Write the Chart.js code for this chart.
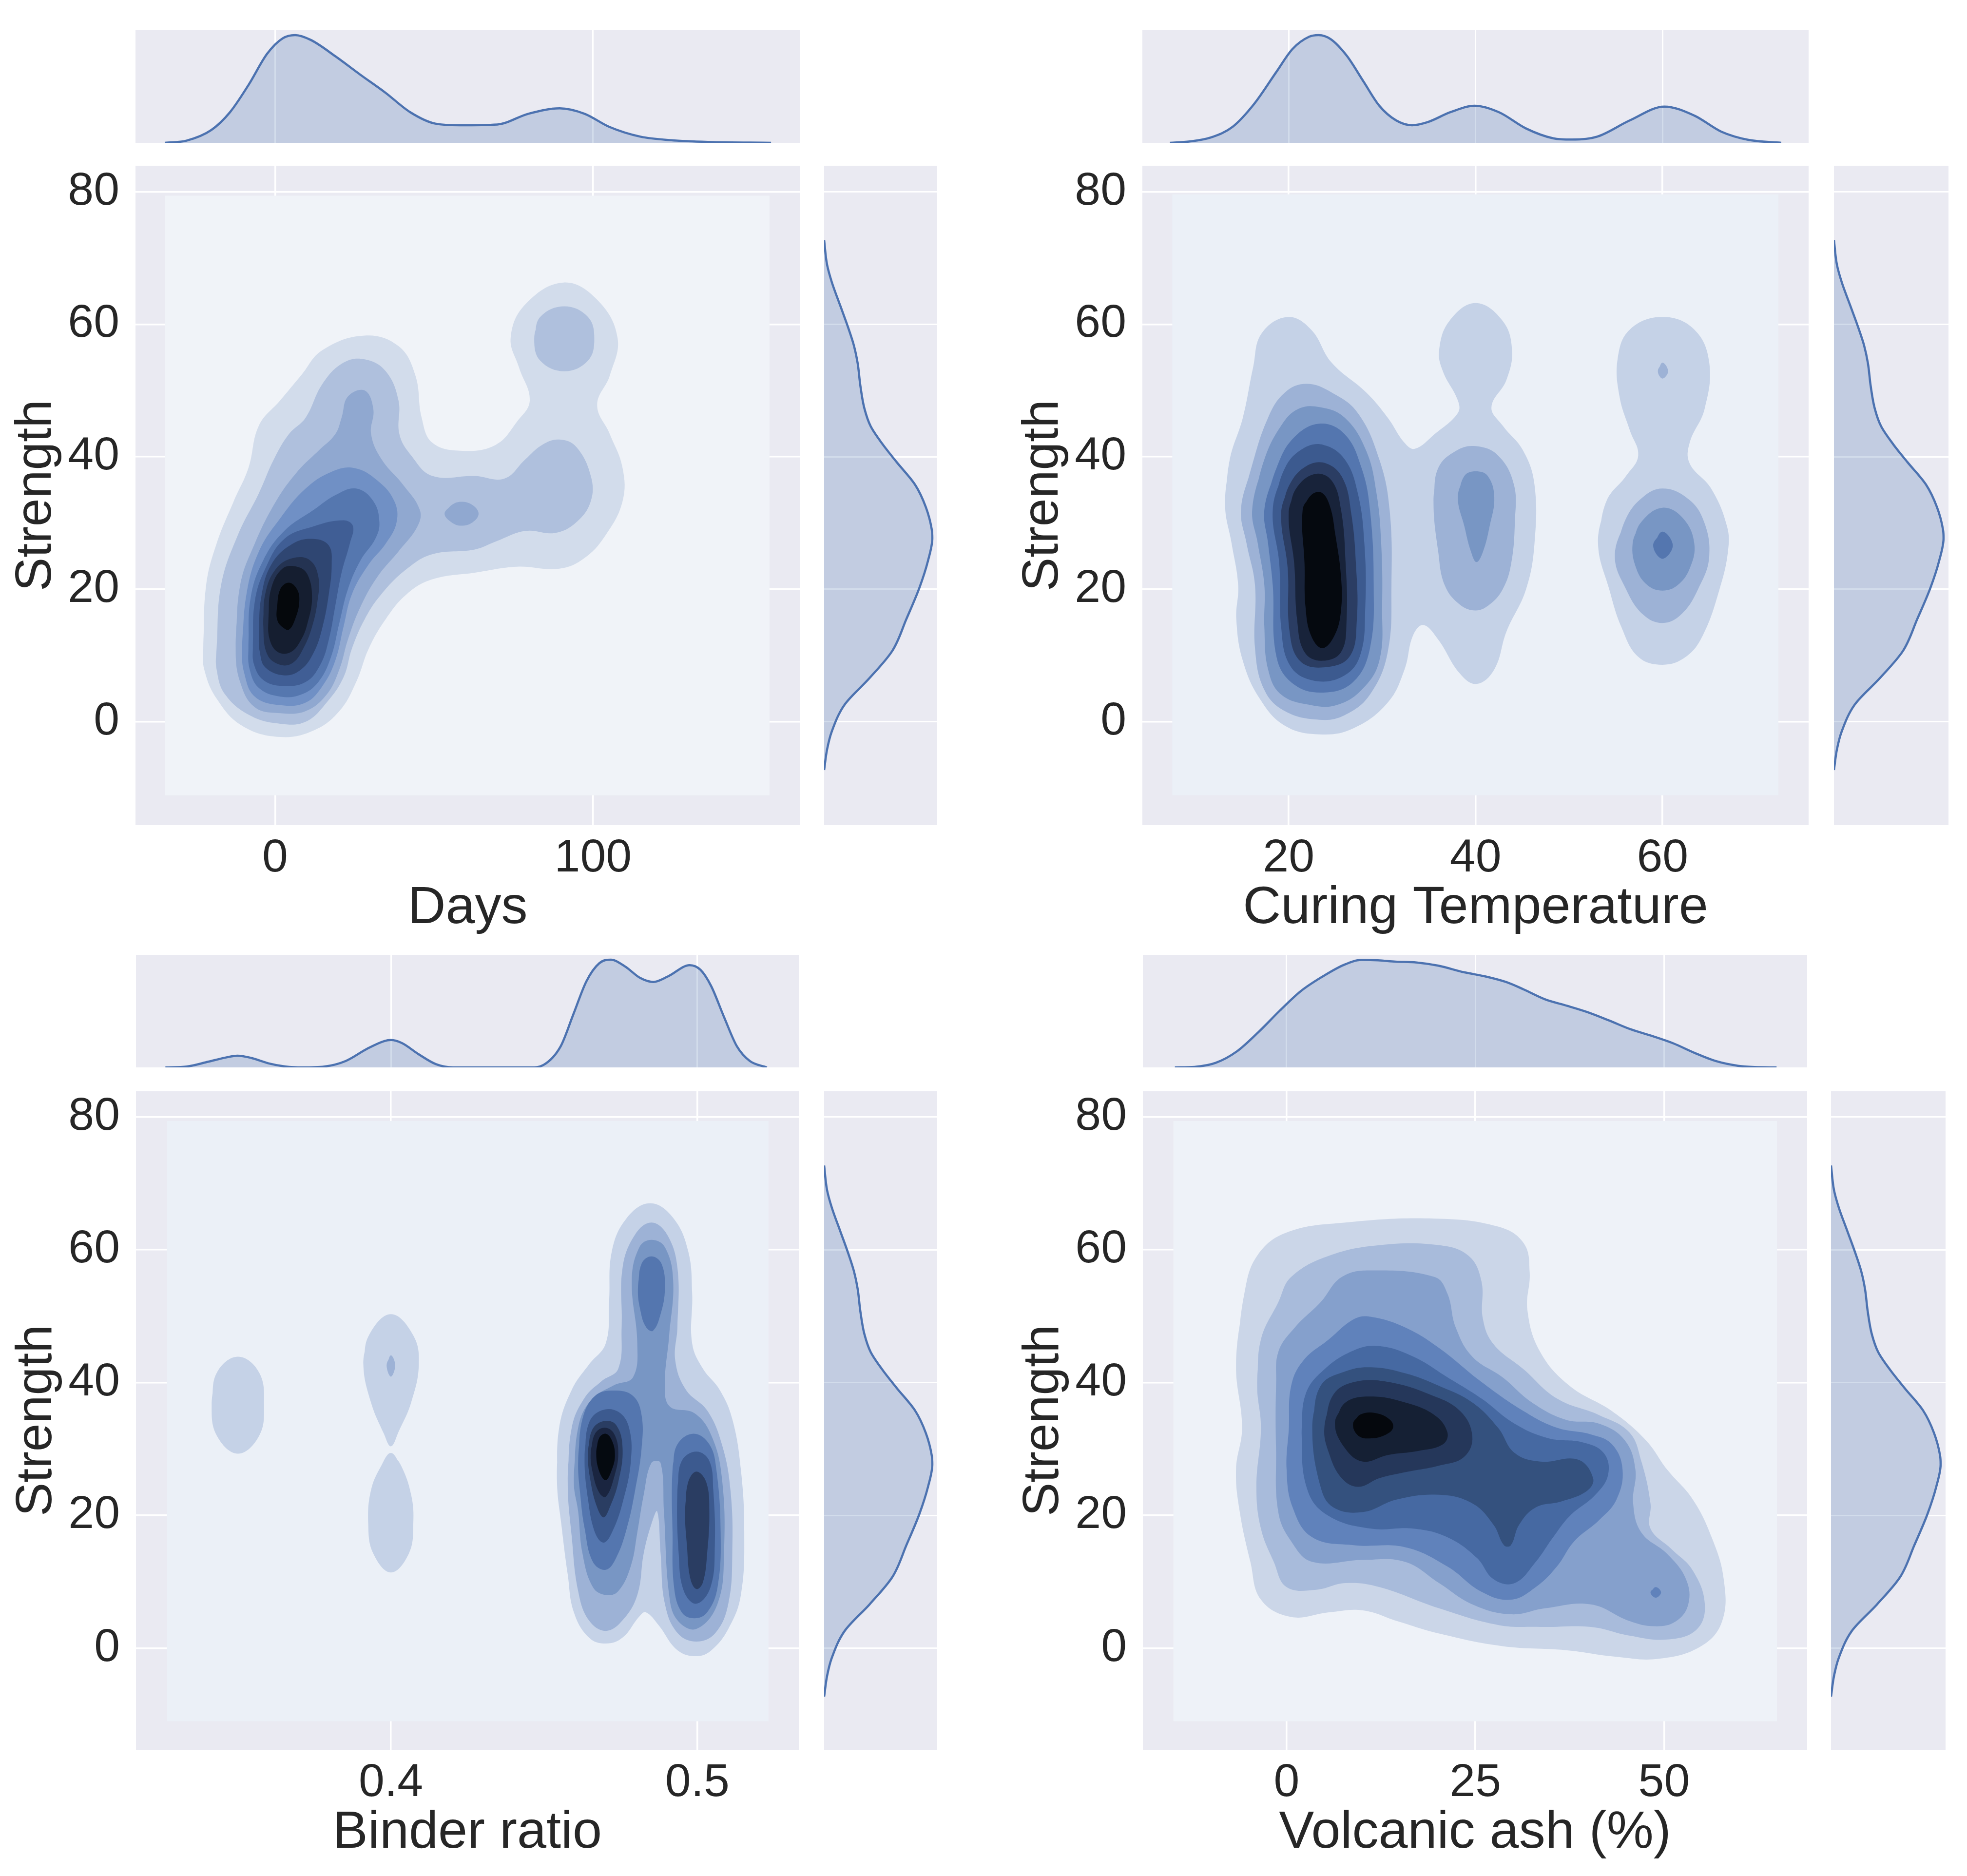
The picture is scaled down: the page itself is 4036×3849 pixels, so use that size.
<!DOCTYPE html>
<html>
<head>
<meta charset="utf-8">
<title>Strength joint KDE plots</title>
<script src="https://cdn.jsdelivr.net/npm/chart.js@4.4.1/dist/chart.umd.min.js"></script>
<style>
  html, body { margin: 0; padding: 0; background: #ffffff; }
  body { width: 4036px; height: 3849px; position: relative; overflow: hidden; }
  canvas { position: absolute; }
</style>
</head>
<body>
<script>
// ---- shared axis values ----
const strengthTicks = [0, 20, 40, 60, 80];
const strengthLabels = ['0', '20', '40', '60', '80'];

// strength marginal density (same on all four plots)
const strengthGrid = [-7.3, -4.2, -1.5, 2.6, 6.6, 10.7, 15.5, 20.2, 24.3, 27.7, 29.0, 32.4, 35.8, 39.2, 41.9, 44.6, 47.3, 50.7, 54.1, 56.8, 59.5, 62.9, 66.3, 69.0, 72.7];
const strengthDensity = [0, 0.027, 0.07, 0.19, 0.42, 0.63, 0.76, 0.88, 0.96, 1.0, 0.995, 0.94, 0.84, 0.67, 0.54, 0.43, 0.372, 0.335, 0.31, 0.275, 0.222, 0.147, 0.072, 0.027, 0];

// ---- Days ----
const daysTicks = [0, 100];
const daysLabels = ['0', '100'];
const daysGrid = [-34.7, -27.9, -20.1, -14.2, -8.3, -2.5, 2.4, 6.3, 11.2, 19.1, 26.9, 34.7, 42.5, 50.4, 58.2, 69.9, 79.7, 89.5, 97.3, 105.1, 114.9, 124.7, 136.4, 156];
const daysDensity = [0, 0.02, 0.118, 0.284, 0.54, 0.827, 0.97, 1.0, 0.955, 0.80, 0.63, 0.465, 0.284, 0.178, 0.163, 0.17, 0.27, 0.32, 0.27, 0.148, 0.057, 0.024, 0.008, 0];
const daysColors = ['#F0F3F8', '#D2DCEB', '#AFC0DD', '#90A8D0', '#7090C5', '#5577AF', '#405E95', '#2F4672', '#243352', '#151E30', '#05080C'];
const daysBase = [[-34.6, -11.1], [-34.6, 79.4], [155.5, 79.4], [155.5, -11.1]];
const days1 = [[-22.6,11.1],[-21.7,20.6],[-18.4,26.9],[-13.0,33.3],[-8.4,38.3],[-5.1,44.7],[1.6,48.5],[8.2,52.3],[14.9,56.1],[28.2,58.3],[38.8,56.7],[44.1,52.3],[46.1,45.9],[49.5,42.1],[58.8,40.9],[69.4,41.8],[76.1,45.3],[80.1,48.5],[76.7,53.5],[74.1,58.0],[78.7,63.0],[90.7,66.3],[101.3,63.7],[107.7,58.0],[105.3,52.3],[101.3,47.8],[105.3,43.4],[109.3,38.3],[109.3,33.3],[104.0,28.2],[97.3,24.7],[89.4,23.1],[76.1,23.4],[62.8,22.5],[49.5,21.5],[41.5,19.3],[34.8,15.5],[29.5,11.1],[25.5,6.0],[20.2,1.6],[12.2,-1.3],[1.6,-2.3],[-10.4,-0.6],[-18.4,3.5],[-22.3,7.9]];
const days2 = [[-18.4,11.1],[-17.0,20.6],[-11.7,28.2],[-5.1,34.5],[-0.4,39.6],[4.3,43.4],[9.6,45.9],[14.9,51.0],[21.5,54.2],[28.2,54.7],[34.8,52.9],[38.8,48.5],[39.1,43.4],[42.8,40.2],[49.5,37.1],[62.8,37.1],[72.1,36.7],[78.7,39.6],[84.0,41.8],[89.4,42.6],[94.7,41.5],[99.3,37.1],[99.3,33.3],[94.7,30.1],[88.0,28.5],[78.7,28.8],[69.4,27.2],[62.8,26.0],[49.5,25.3],[41.5,23.1],[33.5,19.3],[28.2,15.5],[24.2,11.1],[21.5,6.7],[16.2,2.9],[9.6,0.0],[1.6,-0.3],[-7.7,0.9],[-15.7,4.1],[-18.4,7.9]];
const days2b = [[81.5,57.8],[83.4,61.1],[91.0,62.7],[98.4,61.1],[100.4,57.8],[98.4,54.5],[91.0,52.9],[83.4,54.5]];
const days3 = [[-12.4,11.1],[-11.0,20.6],[-6.4,26.9],[0.3,33.3],[6.9,37.7],[13.6,40.9],[18.9,43.4],[20.9,45.9],[22.9,49.1],[28.2,50.0],[30.9,47.2],[30.2,43.4],[33.5,39.6],[40.2,35.8],[45.5,32.0],[44.8,29.5],[38.8,25.7],[32.2,21.9],[26.9,17.4],[22.9,12.4],[20.2,7.9],[16.2,4.1],[9.6,1.6],[1.6,1.3],[-6.4,2.2],[-11.0,6.0]];
const days3b = [[53.3,31.4],[55.5,32.7],[58.6,33.2],[62.1,32.7],[64.0,31.4],[62.1,30.1],[58.6,29.6],[55.5,30.1]];
const days4 = [[-10.4,11.1],[-9.0,19.3],[-5.1,25.7],[1.6,30.7],[9.6,35.2],[17.6,37.7],[24.9,38.3],[32.2,36.4],[37.5,33.3],[38.2,30.1],[34.8,26.9],[29.5,23.8],[24.2,19.3],[21.5,14.3],[18.9,9.2],[14.9,5.4],[9.6,2.9],[1.6,2.5],[-6.4,3.8],[-9.7,7.3]];
const days5 = [[-8.4,11.1],[-7.7,18.7],[-3.7,24.4],[2.9,28.8],[12.2,32.0],[18.9,34.2],[25.5,35.2],[30.9,33.3],[32.8,30.1],[31.5,27.6],[26.9,24.4],[22.9,20.0],[20.2,14.9],[17.6,9.8],[13.6,6.0],[8.2,4.1],[1.6,3.8],[-5.1,5.1],[-8.0,7.9]];
const days6 = [[-7.0,11.1],[-6.4,18.1],[-3.1,23.1],[2.9,27.6],[12.2,29.5],[21.5,30.4],[24.5,29.5],[23.5,26.9],[20.9,22.5],[18.9,17.4],[16.9,12.4],[14.2,8.6],[9.6,6.0],[2.3,5.4],[-3.7,6.3],[-6.6,8.6]];
const days7 = [[-5.1,13.0],[-4.4,18.7],[-1.1,23.8],[5.6,26.9],[12.2,27.6],[16.9,26.6],[17.8,23.8],[16.9,19.3],[14.9,14.3],[12.2,10.5],[8.2,7.9],[2.9,7.0],[-3.1,8.2],[-4.8,10.5]];
const days8 = [[-3.7,14.3],[-3.1,19.3],[0.3,23.1],[5.6,24.7],[10.9,24.4],[13.6,21.9],[13.3,18.1],[11.6,14.3],[8.9,11.1],[5.6,8.9],[1.6,8.6],[-2.4,10.1]];
const days9 = [[-2.1,15.5],[-1.3,20.0],[2.3,23.1],[6.9,23.4],[10.2,22.2],[11.6,18.7],[10.2,14.9],[8.2,12.4],[4.9,10.5],[0.9,10.5],[-1.7,12.4]];
const days10 = [[0.5,16.8],[1.6,20.0],[4.3,21.0],[6.9,20.0],[7.6,18.1],[6.3,15.5],[4.3,13.9],[2.3,14.3],[0.8,15.2]];

// ---- Curing Temperature ----
const tempTicks = [20, 40, 60];
const tempLabels = ['20', '40', '60'];
const tempGrid = [7.3, 9.4, 11.7, 14.0, 16.3, 18.7, 20.4, 22.2, 23.2, 24.5, 26.2, 28.0, 29.7, 31.5, 33.2, 34.9, 37.3, 39.9, 42.5, 45.4, 48.3, 50.3, 53.0, 56.5, 60.2, 63.4, 66.3, 69.2, 72.7];
const tempDensity = [0, 0.012, 0.05, 0.148, 0.36, 0.66, 0.87, 0.985, 1.0, 0.962, 0.81, 0.57, 0.344, 0.208, 0.163, 0.193, 0.284, 0.344, 0.284, 0.133, 0.042, 0.03, 0.057, 0.208, 0.336, 0.253, 0.103, 0.027, 0];
const tempColors = ['#EBF0F7', '#C5D2E7', '#9DB2D6', '#7896C4', '#5476AF', '#3C5A8F', '#2B3D63', '#18233A', '#05090F'];
const tempBase = [[7.55, -11.1], [7.55, 79.6], [72.4, 79.6], [72.4, -11.1]];
const temp1a = [[13.2,32.6],[13.7,39.6],[15.1,45.9],[16.2,53.5],[17.1,58.6],[19.9,61.1],[22.4,59.2],[24.6,54.2],[28.3,49.7],[30.6,45.9],[32.4,42.1],[33.5,41.2],[35.6,43.4],[38.1,46.6],[38.1,48.5],[36.5,52.9],[36.1,56.1],[37.2,60.5],[40.0,63.2],[42.9,60.5],[43.9,56.1],[43.3,51.6],[41.7,47.5],[42.9,44.7],[45.1,40.9],[46.3,35.8],[46.3,26.9],[45.4,20.0],[43.3,13.6],[42.0,7.9],[40.1,5.7],[38.3,7.3],[36.0,12.4],[34.4,14.6],[33.3,13.0],[32.4,7.9],[30.6,2.9],[26.9,-1.0],[23.3,-1.9],[19.6,-0.6],[16.9,3.5],[15.1,9.2],[14.4,15.5],[14.6,20.6],[13.9,26.9]];
const temp1b = [[53.1,26.9],[54.0,33.3],[56.1,37.1],[57.4,40.2],[56.5,44.0],[55.4,49.1],[55.2,54.8],[56.5,59.2],[60.0,61.1],[63.4,59.2],[65.0,54.2],[64.5,47.2],[62.9,42.1],[62.9,39.0],[65.2,35.2],[66.9,29.5],[67.0,25.7],[66.1,20.0],[64.3,13.0],[62.5,9.8],[60.0,8.6],[57.4,9.8],[55.6,14.3],[54.3,20.0]];
const temp2a = [[14.9,32.0],[16.0,38.3],[17.8,45.9],[19.6,49.7],[21.9,51.0],[24.6,49.7],[27.4,46.6],[29.7,39.6],[30.8,32.0],[31.0,20.6],[30.6,10.5],[28.7,4.1],[26.0,1.0],[23.3,0.3],[19.6,1.6],[17.4,4.8],[16.4,11.1],[16.4,20.6],[15.5,26.9]];
const temp2b = [[35.5,33.3],[36.0,38.3],[37.9,40.9],[40.0,41.6],[42.4,40.2],[44.1,35.8],[44.2,30.1],[43.8,23.8],[42.9,20.0],[41.5,17.7],[40.0,16.8],[38.3,17.7],[36.7,20.6],[36.0,25.7]];
const temp2c = [[54.9,25.0],[56.1,30.7],[57.9,33.9],[60.0,35.2],[62.5,33.9],[64.3,30.7],[65.0,25.0],[63.8,20.0],[62.0,16.2],[60.0,14.9],[57.9,16.2],[56.1,20.0]];
const temp2d = [[59.5,52.9],[60.0,54.2],[60.6,52.9],[60.0,51.8]];
const temp3a = [[16.1,32.0],[17.4,39.6],[19.2,44.7],[21.0,47.2],[23.3,47.5],[26.0,45.9],[28.3,40.9],[29.4,34.5],[29.9,26.9],[30.0,17.4],[29.7,9.2],[27.8,4.8],[25.1,2.5],[22.4,2.5],[19.2,4.1],[17.8,7.9],[17.4,14.3],[17.4,20.6],[16.7,26.9]];
const temp3b = [[38.1,33.9],[38.8,37.1],[40.0,37.8],[41.3,37.1],[42.0,33.9],[41.5,29.5],[40.8,25.7],[40.1,24.1],[39.5,25.7],[38.8,29.5]];
const temp3c = [[56.8,26.9],[57.7,30.1],[60.0,32.3],[62.2,30.7],[63.4,26.9],[62.9,23.1],[61.6,20.6],[60.0,19.8],[58.4,20.6],[57.2,23.1]];
const temp4a = [[17.4,32.0],[18.7,38.3],[20.5,42.8],[23.3,45.0],[26.0,43.4],[27.8,38.3],[28.7,32.0],[29.1,20.6],[28.7,11.1],[26.9,6.0],[23.7,4.4],[20.5,5.7],[18.7,9.8],[18.3,20.6],[17.8,26.9]];
const temp4b = [[59.0,26.6],[60.0,28.7],[61.1,26.6],[60.0,24.6]];
const temp5 = [[18.3,32.0],[19.6,38.3],[21.5,41.2],[23.7,41.8],[26.0,39.6],[27.4,34.5],[28.1,26.9],[28.2,17.4],[27.6,9.8],[25.6,6.7],[22.4,6.3],[20.1,8.6],[19.2,14.3],[19.0,23.8]];
const temp6 = [[19.2,31.4],[20.1,35.8],[21.9,38.6],[24.0,39.0],[25.8,36.7],[26.7,31.4],[27.2,23.8],[27.3,15.5],[26.5,9.8],[23.7,8.2],[21.2,9.2],[20.1,13.6],[19.9,23.1]];
const temp7 = [[20.0,31.4],[20.8,35.2],[22.8,37.4],[24.6,36.4],[25.6,32.0],[26.1,23.8],[26.2,15.5],[25.6,10.5],[23.5,9.2],[21.7,10.5],[20.9,15.5],[20.6,23.8]];
const temp8 = [[21.5,32.0],[22.4,34.2],[23.5,34.6],[24.4,32.6],[25.0,28.2],[25.6,21.9],[25.6,16.8],[24.9,13.0],[23.6,11.1],[22.4,13.0],[21.8,17.4],[21.7,23.8]];

// ---- Binder ratio ----
const binderTicks = [0.4, 0.5];
const binderLabels = ['0.4', '0.5'];
const binderGrid = [0.3264, 0.3334, 0.3404, 0.3460, 0.3499, 0.3544, 0.3600, 0.3656, 0.3712, 0.3783, 0.3853, 0.3923, 0.3979, 0.4000, 0.4035, 0.4091, 0.4147, 0.4203, 0.4456, 0.4498, 0.4554, 0.4596, 0.4638, 0.4680, 0.4718, 0.4764, 0.4813, 0.4856, 0.4905, 0.4975, 0.5010, 0.5045, 0.5087, 0.5129, 0.5171, 0.5227];
const binderDensity = [0, 0.008, 0.053, 0.091, 0.109, 0.088, 0.038, 0.008, 0, 0.008, 0.06, 0.174, 0.245, 0.254, 0.227, 0.121, 0.03, 0, 0, 0.023, 0.196, 0.498, 0.80, 0.967, 1.0, 0.937, 0.831, 0.793, 0.846, 0.949, 0.906, 0.755, 0.468, 0.196, 0.06, 0];
const binderColors = ['#EBF0F7', '#C5D2E7', '#9DB2D6', '#7896C4', '#5476AF', '#3C5A8F', '#2A3D62', '#1A2540', '#050A10'];
const binderBase = [[0.3269, -11.0], [0.3269, 79.4], [0.5232, 79.4], [0.5232, -11.0]];
const binder1a = [[0.3415,36.6],[0.3432,41.5],[0.3501,43.9],[0.3570,41.5],[0.3586,36.6],[0.3570,32.0],[0.3501,29.3],[0.3432,32.0]];
const binder1b = [[0.3910,42.7],[0.3928,47.1],[0.4000,50.3],[0.4073,47.1],[0.4091,42.7],[0.4066,37.0],[0.4025,32.6],[0.4000,30.4],[0.3977,32.3],[0.3935,37.0]];
const binder1c = [[0.4000,29.4],[0.4032,27.6],[0.4066,23.1],[0.4073,18.7],[0.4059,14.3],[0.4000,11.4],[0.3942,14.3],[0.3926,18.7],[0.3935,23.8],[0.3970,27.6]];
const binder1d = [[0.4542,25.0],[0.4549,33.2],[0.4590,38.9],[0.4646,42.7],[0.4701,45.9],[0.4712,52.2],[0.4721,59.8],[0.4770,64.8],[0.4846,67.0],[0.4921,64.8],[0.4970,59.8],[0.4983,53.5],[0.4983,45.9],[0.5018,42.1],[0.5073,38.9],[0.5114,34.5],[0.5142,26.9],[0.5153,17.4],[0.5142,8.0],[0.5101,2.9],[0.5046,-0.3],[0.4997,-1.2],[0.4935,-0.3],[0.4873,3.5],[0.4832,5.4],[0.4811,4.8],[0.4756,1.6],[0.4701,0.7],[0.4646,1.6],[0.4597,5.4],[0.4577,11.1],[0.4556,18.7]];
const binder2a = [[0.4577,25.0],[0.4590,33.2],[0.4632,37.7],[0.4687,40.2],[0.4742,42.1],[0.4753,48.4],[0.4756,57.3],[0.4797,62.3],[0.4850,64.1],[0.4901,62.3],[0.4935,57.3],[0.4935,48.4],[0.4928,43.3],[0.4963,38.9],[0.5032,35.8],[0.5080,30.7],[0.5108,23.8],[0.5114,14.3],[0.5101,6.7],[0.5059,2.3],[0.4997,1.0],[0.4935,2.3],[0.4894,6.7],[0.4880,14.3],[0.4869,20.6],[0.4850,18.7],[0.4825,14.3],[0.4804,8.0],[0.4756,4.2],[0.4701,2.6],[0.4646,4.2],[0.4611,8.6],[0.4590,16.8]];
const binder2b = [[0.3986,42.6],[0.4000,44.1],[0.4014,42.6],[0.4000,40.9]];
const binder3 = [[0.4597,25.0],[0.4611,33.2],[0.4652,37.3],[0.4728,39.6],[0.4790,40.8],[0.4804,45.9],[0.4786,55.4],[0.4811,60.4],[0.4850,61.5],[0.4894,60.4],[0.4921,55.4],[0.4908,47.1],[0.4894,39.6],[0.4910,36.4],[0.4990,35.4],[0.5046,32.0],[0.5080,25.7],[0.5087,14.3],[0.5066,6.7],[0.4997,2.9],[0.4935,4.2],[0.4908,8.0],[0.4891,20.6],[0.4880,27.9],[0.4850,27.9],[0.4825,23.1],[0.4804,17.4],[0.4783,12.4],[0.4742,8.6],[0.4701,8.0],[0.4659,9.2],[0.4625,14.3],[0.4611,20.6]];
const binder4a = [[0.4806,54.1],[0.4818,57.9],[0.4850,59.0],[0.4883,57.9],[0.4894,54.1],[0.4880,50.3],[0.4855,47.8],[0.4832,48.4],[0.4814,50.9]];
const binder4b = [[0.4611,28.2],[0.4625,34.5],[0.4666,38.0],[0.4728,38.8],[0.4790,38.0],[0.4818,35.1],[0.4818,30.1],[0.4797,23.8],[0.4770,18.1],[0.4735,13.6],[0.4701,11.8],[0.4659,13.0],[0.4632,18.1],[0.4618,23.1]];
const binder4c = [[0.4919,26.9],[0.4935,30.7],[0.4988,32.3],[0.5039,30.7],[0.5062,26.9],[0.5076,17.4],[0.5066,9.2],[0.5032,5.4],[0.4990,4.5],[0.4949,5.4],[0.4924,9.2],[0.4919,17.4]];
const binder5a = [[0.4632,28.8],[0.4646,33.9],[0.4687,35.8],[0.4742,35.6],[0.4777,33.2],[0.4783,28.2],[0.4756,21.9],[0.4721,17.4],[0.4694,15.9],[0.4666,17.4],[0.4643,22.5]];
const binder5b = [[0.4935,23.8],[0.4949,28.2],[0.4997,29.6],[0.5039,28.2],[0.5052,23.8],[0.5057,15.5],[0.5043,9.2],[0.4997,6.7],[0.4956,8.6],[0.4939,14.3]];
const binder6a = [[0.4643,29.4],[0.4657,32.9],[0.4694,34.2],[0.4735,33.6],[0.4756,30.1],[0.4742,25.0],[0.4714,21.2],[0.4694,19.7],[0.4673,21.2],[0.4652,25.0]];
const binder6b = [[0.4960,20.6],[0.4970,25.0],[0.4997,26.6],[0.5029,25.0],[0.5039,20.6],[0.5032,14.3],[0.5018,9.9],[0.4997,8.9],[0.4977,10.5],[0.4966,15.5]];
const binder7 = [[0.4652,29.4],[0.4666,32.3],[0.4698,33.2],[0.4728,32.3],[0.4742,29.4],[0.4728,25.7],[0.4701,22.8],[0.4680,23.4],[0.4659,26.3]];
const binder8 = [[0.4670,29.4],[0.4680,31.7],[0.4701,32.3],[0.4721,31.3],[0.4731,29.1],[0.4721,26.9],[0.4701,25.3],[0.4680,26.6]];

// ---- Volcanic ash ----
const ashTicks = [0, 25, 50];
const ashLabels = ['0', '25', '50'];
const ashGrid = [-14.8, -12.2, -9.4, -6.6, -3.7, -0.9, 1.9, 4.8, 7.6, 9.9, 12.1, 14.4, 17.2, 20.1, 23.5, 26.3, 29.1, 31.4, 34.2, 37.1, 39.9, 42.7, 45.6, 48.4, 51.2, 54.1, 56.9, 59.8, 62.0, 64.9];
const ashDensity = [0, 0.005, 0.042, 0.148, 0.33, 0.527, 0.709, 0.845, 0.952, 0.997, 0.994, 0.982, 0.974, 0.944, 0.883, 0.845, 0.792, 0.724, 0.633, 0.573, 0.512, 0.436, 0.353, 0.292, 0.224, 0.133, 0.058, 0.015, 0.003, 0];
const ashColors = ['#EEF2F8', '#CBD6E8', '#A8BBDB', '#85A0CC', '#6082BB', '#4669A2', '#34517E', '#25375A', '#152034', '#05080D'];
const ashBase = [[-15.0, -11.0], [-15.0, 79.4], [64.95, 79.4], [64.95, -11.0]];
const ash1 = [[-6.7,42.7],[-5.6,53.4],[-3.9,59.1],[0,62.6],[7.8,64.1],[19.6,64.7],[28.0,63.5],[31.4,61.0],[32.2,56.6],[31.9,50.9],[33.6,44.6],[37.5,39.5],[43.1,35.7],[47.6,31.3],[50.4,26.9],[53.8,22.4],[56.3,16.7],[57.9,10.4],[57.7,4.1],[54.9,0.3],[49.3,-1.6],[43.7,-1.3],[37.0,-0.3],[28.6,0.3],[20.2,2.2],[14.6,4.1],[10.1,5.7],[5.6,5.4],[0.6,4.7],[-3.4,7.3],[-4.8,13.0],[-6.2,20.5],[-6.7,26.9],[-5.9,33.2]];
const ash2 = [[-3.9,39.5],[-3.4,46.5],[-1.1,52.1],[0.6,55.9],[5.6,59.1],[12.3,60.7],[20.2,60.7],[24.1,59.1],[25.8,55.3],[26.0,49.6],[27.4,45.8],[31.4,42.0],[35.8,37.6],[41.4,35.1],[45.4,32.5],[47.0,28.1],[48.2,21.8],[48.2,18.0],[51.0,14.9],[53.8,11.7],[55.4,6.6],[54.3,2.8],[50.4,1.3],[45.4,1.9],[40.3,3.2],[33.6,3.2],[28.0,3.5],[20.2,6.0],[12.3,9.2],[7.8,9.8],[3.9,8.8],[0,9.2],[-1.7,13.0],[-3.4,18.0],[-4.0,24.3],[-3.4,33.2]];
const ash3 = [[-1.4,39.5],[-1.1,44.6],[1.1,48.3],[4.5,52.1],[7.3,55.9],[11.2,56.9],[19.6,55.9],[21.3,53.4],[22.4,48.3],[24.6,43.9],[28.6,40.8],[32.5,37.0],[37.0,34.4],[41.4,33.8],[44.8,31.3],[46.2,26.9],[45.9,21.8],[47.0,17.4],[50.4,14.2],[52.9,10.4],[53.2,6.6],[51.5,4.0],[48.7,3.3],[45.4,4.1],[40.3,6.6],[34.2,6.0],[29.7,5.1],[24.6,6.6],[20.2,9.8],[15.7,13.0],[10.1,13.3],[3.4,13.0],[0.6,16.1],[-1.1,20.5],[-1.4,30.0]];
const ash4 = [[0.3,33.2],[0.6,39.5],[2.2,43.3],[5.6,46.5],[9.0,49.6],[11.2,49.9],[15.7,48.3],[20.2,45.2],[25.8,40.1],[31.4,35.7],[35.8,33.2],[40.3,32.2],[43.1,30.7],[44.5,26.9],[43.7,22.4],[41.4,19.3],[38.1,16.1],[35.8,12.3],[33.0,9.2],[29.7,7.3],[25.8,8.5],[21.3,12.3],[15.7,15.2],[9.0,15.5],[3.4,16.7],[0.8,21.2],[0,26.9]];
const ash4b = [[48.2,8.4],[48.9,9.2],[49.6,8.4],[48.9,7.6]];
const ash5 = [[2.0,31.9],[2.5,38.2],[5.0,42.0],[9.0,44.9],[12.3,45.5],[16.8,43.9],[21.3,40.8],[25.8,37.6],[30.2,33.8],[34.7,31.6],[39.2,31.0],[42.0,29.4],[42.6,26.2],[40.9,23.1],[37.5,19.9],[35.3,16.7],[33.0,13.0],[30.2,9.8],[27.4,10.4],[25.2,13.6],[21.3,16.7],[16.8,18.0],[11.2,18.0],[5.6,19.9],[2.8,23.7]];
const ash6 = [[3.4,33.2],[4.5,39.5],[7.8,41.7],[11.2,42.3],[15.7,41.4],[20.2,39.5],[24.6,37.0],[28.0,33.2],[30.2,29.4],[33.6,28.1],[38.6,28.4],[40.6,25.6],[39.8,23.7],[36.4,22.1],[33.0,21.2],[30.8,18.6],[29.7,15.5],[28.8,15.5],[27.4,18.6],[24.6,21.8],[20.2,23.1],[14.6,22.4],[10.1,20.5],[6.2,21.2],[4.5,24.3]];
const ash7 = [[5.0,33.2],[6.2,38.2],[9.0,40.1],[13.4,40.1],[19.0,38.2],[23.0,35.7],[24.6,31.9],[23.5,28.8],[20.2,27.5],[15.7,26.5],[12.3,25.6],[9.5,24.3],[7.3,25.6],[5.6,29.4]];
const ash8 = [[6.4,33.8],[7.8,37.0],[11.2,37.9],[15.7,37.0],[19.6,35.1],[21.3,32.5],[20.7,30.7],[17.4,29.7],[13.4,29.1],[10.1,28.1],[7.8,30.0]];
const ash9 = [[8.8,33.8],[9.8,35.2],[11.8,35.4],[13.7,34.4],[14.1,33.2],[13.2,32.2],[11.2,31.6],[9.5,32.0]];

// ---- look ----
const TEXT = '#262626';
const FONT = "'Liberation Sans', Arial, Helvetica, sans-serif";
const AXES_BG = '#EAEAF2';
const LINE = '#4C72B0';
const SHADE = 'rgba(76, 114, 176, 0.25)';
const Y_AXIS_W = 278;
const X_AXIS_H = 250;

Chart.defaults.font.family = FONT;
Chart.defaults.color = TEXT;

const plotBg = {
  id: 'plotBg',
  beforeDraw(chart) {
    const a = chart.chartArea;
    const ctx = chart.ctx;
    ctx.save();
    ctx.fillStyle = AXES_BG;
    ctx.fillRect(a.left, a.top, a.right - a.left, a.bottom - a.top);
    ctx.restore();
  }
};

function addCanvas(left, top, w, h) {
  const c = document.createElement('canvas');
  c.width = w;
  c.height = h;
  c.style.left = left + 'px';
  c.style.top = top + 'px';
  c.style.width = w + 'px';
  c.style.height = h + 'px';
  document.body.appendChild(c);
  return c;
}

// fixed axis thickness, and no extra room for labels hanging over the ends
function fitAxis(s, size) {
  if (s.isHorizontal()) s.height = size; else s.width = size;
  s.paddingLeft = s.paddingRight = s.paddingTop = s.paddingBottom = 0;
}

function setTicks(values) {
  return s => { s.ticks = values.map(v => ({value: v})); };
}

// close the outline; the repeated second vertex lets the smoothing meet itself
function ring(pts) {
  return pts.concat([pts[0], pts[1]]).map(p => ({x: p[0], y: p[1]}));
}

const baseOptions = {
  responsive: false,
  animation: false,
  devicePixelRatio: 1,
  events: [],
  layout: {padding: 0},
  plugins: {legend: {display: false}, tooltip: {enabled: false}}
};

function jointChart(box, xRange, yRange, xTicks, xLabels, xTitle, colors, shapes) {
  const canvas = addCanvas(box.left - Y_AXIS_W, box.top, box.w + Y_AXIS_W, box.h + X_AXIS_H);
  const datasets = shapes.map(([lvl, pts]) => ({
    data: ring(pts),
    backgroundColor: colors[lvl],
    borderColor: 'rgba(0,0,0,0)',
    borderWidth: 0,
    pointRadius: 0,
    fill: 'shape',
    tension: lvl === 0 ? 0 : 0.4
  })).reverse(); // first dataset is painted last

  new Chart(canvas, {
    type: 'line',
    data: {datasets},
    options: Object.assign({}, baseOptions, {
      scales: {
        x: {
          type: 'linear', min: xRange[0], max: xRange[1],
          afterBuildTicks: setTicks(xTicks),
          afterFit: s => fitAxis(s, X_AXIS_H),
          grid: {color: '#ffffff', lineWidth: 3.5, drawTicks: false},
          border: {display: false},
          ticks: {font: {size: 95}, padding: 12, maxRotation: 0, autoSkip: false,
                  callback: (v, i) => xLabels[i]},
          title: {display: true, text: xTitle, font: {size: 108}, padding: {top: 0, bottom: 14}}
        },
        y: {
          type: 'linear', min: yRange[0], max: yRange[1],
          afterBuildTicks: setTicks(strengthTicks),
          afterFit: s => fitAxis(s, Y_AXIS_W),
          grid: {color: '#ffffff', lineWidth: 3.5, drawTicks: false},
          border: {display: false},
          ticks: {font: {size: 95}, padding: 33, autoSkip: false,
                  callback: (v, i) => strengthLabels[i]},
          title: {display: true, text: 'Strength', font: {size: 104}, padding: {top: 13, bottom: 0}}
        }
      }
    }),
    plugins: [plotBg]
  });
}

function topMarginal(box, xRange, xTicks, xs, dens) {
  const canvas = addCanvas(box.left, box.top, box.w, box.h);
  new Chart(canvas, {
    type: 'line',
    data: {datasets: [{
      data: xs.map((x, i) => ({x, y: dens[i]})),
      borderColor: LINE, borderWidth: 4.5, backgroundColor: SHADE,
      fill: 'origin', pointRadius: 0, cubicInterpolationMode: 'monotone'
    }]},
    options: Object.assign({}, baseOptions, {
      scales: {
        x: {
          type: 'linear', min: xRange[0], max: xRange[1],
          afterBuildTicks: setTicks(xTicks),
          afterFit: s => fitAxis(s, 0),
          grid: {color: '#ffffff', lineWidth: 3, drawTicks: false},
          border: {display: false},
          ticks: {display: false}
        },
        y: {type: 'linear', min: 0, max: 1.045, display: false}
      }
    }),
    plugins: [plotBg]
  });
}

function rightMarginal(box, yRange) {
  const canvas = addCanvas(box.left, box.top, box.w, box.h);
  new Chart(canvas, {
    type: 'line',
    data: {datasets: [{
      data: strengthGrid.map((y, i) => ({x: strengthDensity[i], y})),
      borderColor: LINE, borderWidth: 4.5, backgroundColor: SHADE,
      fill: 'origin', pointRadius: 0, cubicInterpolationMode: 'monotone'
    }]},
    options: Object.assign({}, baseOptions, {
      indexAxis: 'y',
      scales: {
        x: {type: 'linear', min: 0, max: 1.045, display: false},
        y: {
          type: 'linear', min: yRange[0], max: yRange[1],
          afterBuildTicks: setTicks(strengthTicks),
          afterFit: s => fitAxis(s, 0),
          grid: {color: '#ffffff', lineWidth: 3, drawTicks: false},
          border: {display: false},
          ticks: {display: false}
        }
      }
    }),
    plugins: [plotBg]
  });
}

// ---- Days vs Strength ----
jointChart({left: 278, top: 340, w: 1363, h: 1353}, [-43.92, 165.03], [-15.61, 83.93],
  daysTicks, daysLabels, 'Days', daysColors,
  [[0, daysBase], [1, days1], [2, days2], [2, days2b], [3, days3], [3, days3b], [4, days4],
   [5, days5], [6, days6], [7, days7], [8, days8], [9, days9], [10, days10]]);
topMarginal({left: 278, top: 62, w: 1363, h: 231}, [-43.92, 165.03], daysTicks, daysGrid, daysDensity);
rightMarginal({left: 1691, top: 340, w: 232, h: 1353}, [-15.61, 83.93]);

// ---- Curing Temperature vs Strength ----
jointChart({left: 2344, top: 340, w: 1367, h: 1353}, [4.35, 75.63], [-15.61, 83.93],
  tempTicks, tempLabels, 'Curing Temperature', tempColors,
  [[0, tempBase], [1, temp1a], [1, temp1b], [2, temp2a], [2, temp2b], [2, temp2c], [2, temp2d],
   [3, temp3a], [3, temp3b], [3, temp3c], [4, temp4a], [4, temp4b], [5, temp5], [6, temp6],
   [7, temp7], [8, temp8]]);
topMarginal({left: 2344, top: 62, w: 1367, h: 231}, [4.35, 75.63], tempTicks, tempGrid, tempDensity);
rightMarginal({left: 3763, top: 340, w: 235, h: 1353}, [-15.61, 83.93]);

// ---- Binder ratio vs Strength ----
jointChart({left: 279, top: 2239, w: 1360, h: 1351}, [0.3168, 0.5331], [-15.30, 83.87],
  binderTicks, binderLabels, 'Binder ratio', binderColors,
  [[0, binderBase], [1, binder1a], [1, binder1b], [1, binder1c], [1, binder1d], [2, binder2a],
   [2, binder2b], [3, binder3], [4, binder4a], [4, binder4b], [4, binder4c], [5, binder5a],
   [5, binder5b], [6, binder6a], [6, binder6b], [7, binder7], [8, binder8]]);
topMarginal({left: 279, top: 1959, w: 1360, h: 231}, [0.3168, 0.5331], binderTicks, binderGrid, binderDensity);
rightMarginal({left: 1691, top: 2239, w: 232, h: 1351}, [-15.30, 83.87]);

// ---- Volcanic ash vs Strength ----
jointChart({left: 2345, top: 2239, w: 1363, h: 1351}, [-19.04, 68.95], [-15.30, 83.87],
  ashTicks, ashLabels, 'Volcanic ash (%)', ashColors,
  [[0, ashBase], [1, ash1], [2, ash2], [3, ash3], [4, ash4], [4, ash4b], [5, ash5], [6, ash6],
   [7, ash7], [8, ash8], [9, ash9]]);
topMarginal({left: 2345, top: 1959, w: 1363, h: 231}, [-19.04, 68.95], ashTicks, ashGrid, ashDensity);
rightMarginal({left: 3757, top: 2239, w: 235, h: 1351}, [-15.30, 83.87]);
</script>
</body>
</html>
